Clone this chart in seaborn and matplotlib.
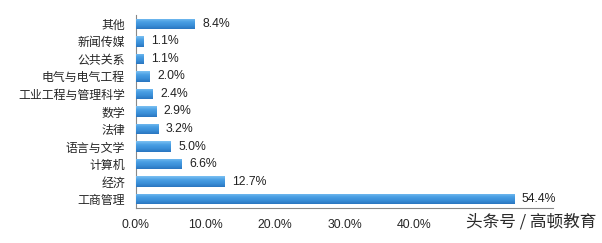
import matplotlib
matplotlib.use("Agg")
import matplotlib.pyplot as plt
import matplotlib.colors as mcolors
import seaborn as sns
import pandas as pd
import numpy as np

categories = ["其他", "新闻传媒", "公共关系", "电气与电气工程", "工业工程与管理科学",
              "数学", "法律", "语言与文学", "计算机", "经济", "工商管理"]
values = [8.4, 1.1, 1.1, 2.0, 2.4, 2.9, 3.2, 5.0, 6.6, 12.7, 54.4]
xticks = [0, 10, 20, 30, 40]
xtick_labels = ["0.0%", "10.0%", "20.0%", "30.0%", "40.0%"]

sns.set_theme(style="white")
plt.rcParams['font.family'] = ['Noto Sans CJK SC', 'DejaVu Sans']

df = pd.DataFrame({"cat": categories, "val": values})

fig = plt.figure(figsize=(6.02, 2.43), dpi=100)
ax = fig.add_axes([136/602, 1 - 208/243, (553-136)/602, (208-15)/243])
sns.barplot(data=df, y="cat", x="val", orient="h", color="#3b8fd8",
            saturation=1, width=0.6, ax=ax, edgecolor="none", linewidth=0)

ax.set_xlim(0, 60)
ylim = ax.get_ylim()

# vertical gradient fill clipped to each bar
cmap = mcolors.LinearSegmentedColormap.from_list(
    "bar", ["#7cc0f2", "#4a9fe4", "#3a8fd8", "#2a76c0"])
grad = np.linspace(0, 1, 64).reshape(-1, 1)
for p in ax.patches:
    x0, y0 = p.get_x(), p.get_y()
    w, h = p.get_width(), p.get_height()
    im = ax.imshow(grad, cmap=cmap, aspect="auto",
                   extent=[x0, x0 + w, y0 + h, y0], origin="upper", zorder=3)
    im.set_clip_path(p)
ax.set_ylim(ylim)
ax.set_xlim(0, 60)

for p, v in zip(ax.patches, values):
    ax.text(p.get_width() + 1.1, p.get_y() + p.get_height() / 2, f"{v:.1f}%",
            va="center", ha="left", fontsize=8.8, color="#222222",
            family=['Liberation Sans', 'DejaVu Sans'], zorder=4)

ax.set_xticks(xticks)
ax.set_xticklabels(xtick_labels, fontsize=8.8, family=['Liberation Sans', 'DejaVu Sans'])
ax.tick_params(axis='y', labelsize=8.6, length=0, pad=8)
ax.tick_params(axis='x', length=0, pad=8)
ax.set_xlabel("")
ax.set_ylabel("")
for s in ["top", "right"]:
    ax.spines[s].set_visible(False)
for s in ["left", "bottom"]:
    ax.spines[s].set_color("#888888")
    ax.spines[s].set_linewidth(0.8)

fig.text(531/602, 1 - 222/243, "头条号 / 高顿教育", ha="center", va="center",
         fontsize=12, color="#2a2a2a")

fig.savefig("out.png", dpi=100)
